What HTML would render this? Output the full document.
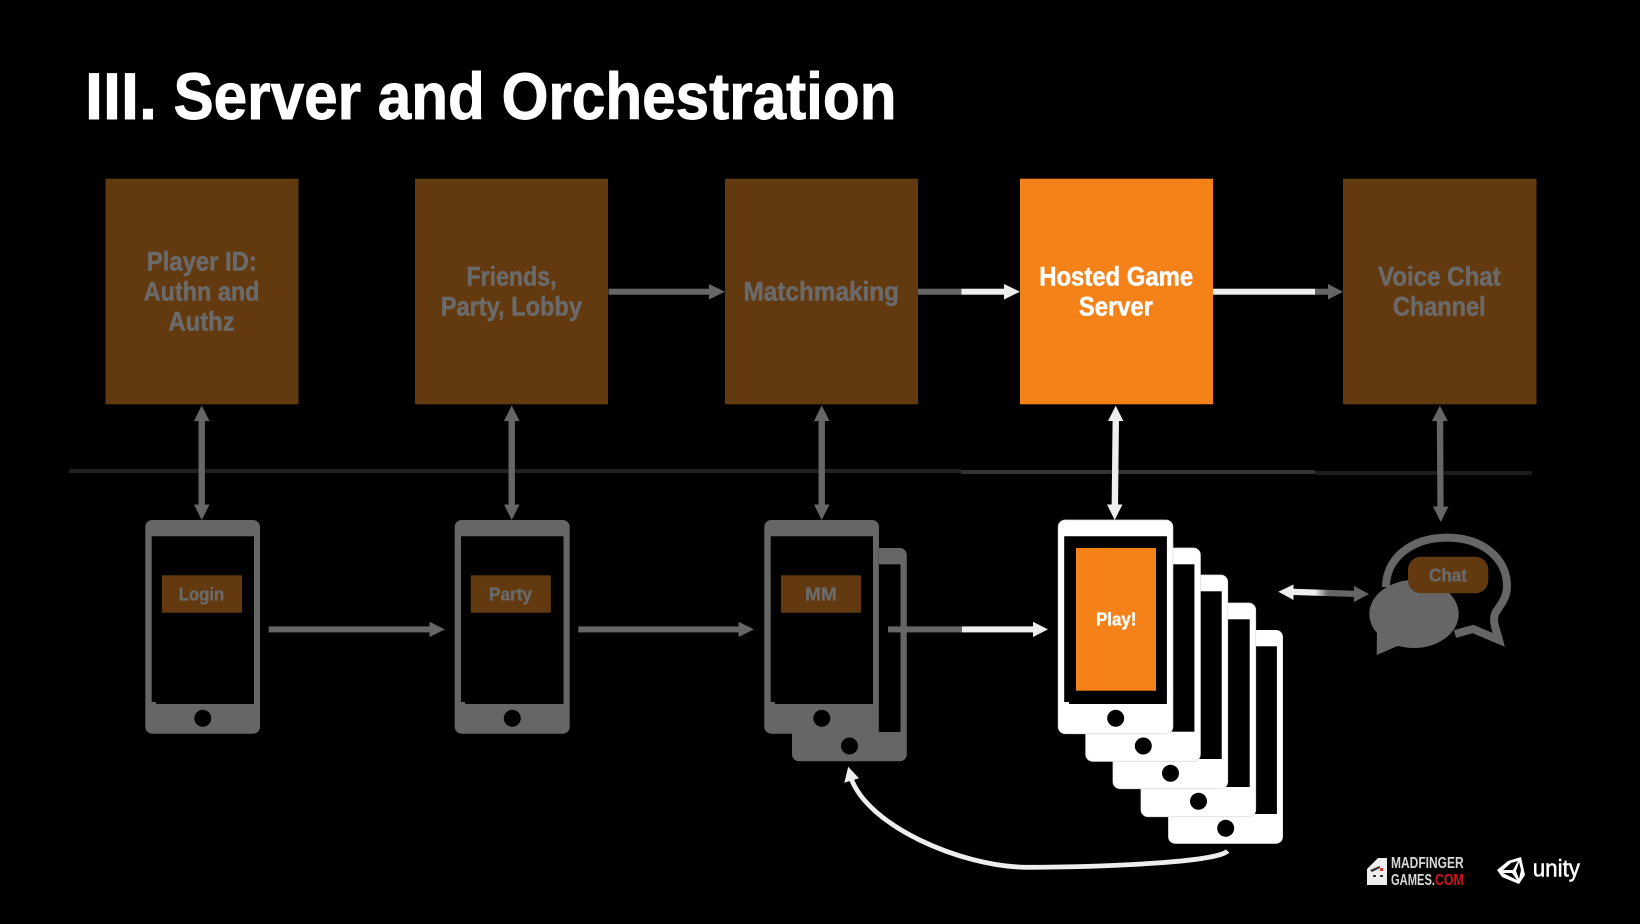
<!DOCTYPE html>
<html><head><meta charset="utf-8"><title>III. Server and Orchestration</title>
<style>html,body{margin:0;padding:0;background:#000}svg{display:block}
text{font-family:"Liberation Sans",sans-serif;font-weight:700;text-anchor:start}</style></head>
<body>
<svg width="1640" height="924" viewBox="0 0 1640 924" xmlns="http://www.w3.org/2000/svg">
<defs>
<linearGradient id="chatg" x1="1315" x2="1328" y1="0" y2="0" gradientUnits="userSpaceOnUse"><stop offset="0" stop-color="#eee"/><stop offset="1" stop-color="#666"/></linearGradient>
</defs>
<rect width="1640" height="924" fill="#000"/>

<g font-size="66" fill="#fff" stroke="#fff" stroke-width="0.9">
<text x="85" y="119" textLength="72" lengthAdjust="spacingAndGlyphs">III.</text>
<text x="173.5" y="119" textLength="723" lengthAdjust="spacingAndGlyphs">Server and Orchestration</text>
</g>

<!-- divider -->
<rect x="69" y="469" width="892" height="4" fill="#202020"/>
<rect x="961" y="470" width="354" height="4" fill="#333"/>
<rect x="1315" y="471" width="217" height="4" fill="#1c1c1c"/>

<!-- top boxes -->
<rect x="105.5" y="178.7" width="193" height="225.6" fill="#633a10"/>
<rect x="415" y="178.7" width="193" height="225.6" fill="#633a10"/>
<rect x="725" y="178.7" width="193" height="225.6" fill="#633a10"/>
<rect x="1020" y="178.7" width="193" height="225.6" fill="#f58219"/>
<rect x="1343" y="178.7" width="193.5" height="225.6" fill="#633a10"/>

<g font-size="26.5" fill="#6a6a6a" stroke="#6a6a6a" stroke-width="0.5" transform="translate(0,0.7)">
<text x="146.8" y="270" textLength="110" lengthAdjust="spacingAndGlyphs">Player ID:</text>
<text x="143.8" y="300" textLength="115.6" lengthAdjust="spacingAndGlyphs">Authn and</text>
<text x="168.4" y="330" textLength="66.3" lengthAdjust="spacingAndGlyphs">Authz</text>
<text x="466.5" y="285" textLength="90" lengthAdjust="spacingAndGlyphs">Friends,</text>
<text x="440.7" y="315" textLength="141.3" lengthAdjust="spacingAndGlyphs">Party, Lobby</text>
<text x="743.5" y="300" textLength="155.5" lengthAdjust="spacingAndGlyphs">Matchmaking</text>
<text x="1378" y="285" textLength="122.7" lengthAdjust="spacingAndGlyphs">Voice Chat</text>
<text x="1393" y="315" textLength="92.5" lengthAdjust="spacingAndGlyphs">Channel</text>
</g>
<g font-size="26.5" fill="#fff" stroke="#fff" stroke-width="0.5" transform="translate(0,0.7)">
<text x="1039.2" y="285" textLength="154" lengthAdjust="spacingAndGlyphs">Hosted Game</text>
<text x="1078.9" y="315" textLength="74" lengthAdjust="spacingAndGlyphs">Server</text>
</g>

<!-- horizontal arrows top -->
<rect x="608.5" y="288.7" width="102" height="6" fill="#666"/>
<polygon points="725,291.7 709,284 709,299.5" fill="#666"/>
<rect x="918" y="288.7" width="43.5" height="6" fill="#666"/>
<rect x="961.5" y="288.7" width="45" height="6" fill="#eee"/>
<polygon points="1020,291.7 1004,284 1004,299.5" fill="#eee"/>
<rect x="1213" y="288.7" width="102" height="6" fill="#eee"/>
<rect x="1315" y="288.7" width="15" height="6" fill="#666"/>
<polygon points="1343,291.7 1328,284 1328,299.5" fill="#666"/>

<!-- vertical arrows -->
<g fill="#666">
<rect x="198.5" y="418" width="6.4" height="90"/>
<polygon points="201.7,405.5 194,421 209.5,421"/>
<polygon points="201.7,520 194,504.5 209.5,504.5"/>
<rect x="508.5" y="418" width="6.4" height="90"/>
<polygon points="511.7,405.5 504,421 519.5,421"/>
<polygon points="511.7,520 504,504.5 519.5,504.5"/>
<rect x="818.5" y="418" width="6.4" height="90"/>
<polygon points="821.7,405.5 814,421 829.5,421"/>
<polygon points="821.7,520 814,504.5 829.5,504.5"/>
<polygon points="1436.8,418 1443.2,418 1443.6,508 1437.4,508"/>
<polygon points="1439.9,405.7 1432,421 1447.8,421"/>
<polygon points="1440.7,522 1433,506.5 1448.5,506.5"/>
</g>
<g fill="#eee">
<polygon points="1112.6,418 1119,418 1118,508 1111.6,508"/>
<polygon points="1115.7,405.7 1108,421 1123.4,421"/>
<polygon points="1114.7,520 1107,504.5 1122.5,504.5"/>
</g>

<!-- gray phones -->
<g fill="#666">
<rect x="145.3" y="520" width="114.7" height="213.7" rx="7"/>
<rect x="454.7" y="520" width="115" height="213.7" rx="7"/>
<rect x="792" y="548" width="114.8" height="213.3" rx="7"/>
<rect x="764.3" y="520" width="114.7" height="213.7" rx="7"/>
</g>
<rect x="878" y="548" width="1" height="186" fill="#555"/>
<g fill="#000">
<rect x="879" y="564.3" width="21.5" height="167.7"/>
<polygon points="151.7,536.3 254,536.3 254,704 156,704 156,702 151.7,702"/>
<polygon points="461,536.3 563.5,536.3 563.5,704 465,704 465,702 461,702"/>
<polygon points="770.7,536.3 873,536.3 873,704 775,704 775,702 770.7,702"/>
<circle cx="202.8" cy="718.3" r="8.5"/>
<circle cx="512.3" cy="718.3" r="8.5"/>
<circle cx="821.8" cy="718.3" r="8.5"/>
<circle cx="849.5" cy="746" r="8.5"/>
</g>

<!-- small labels -->
<rect x="162" y="575.3" width="80" height="37.4" fill="#633a10"/>
<rect x="470.8" y="575.3" width="80" height="37.4" fill="#633a10"/>
<rect x="781" y="575.3" width="80" height="37.4" fill="#633a10"/>
<g font-size="18.5" fill="#6a6a6a" stroke="#6a6a6a" stroke-width="0.35">
<text x="178.7" y="600.7" textLength="45.6" lengthAdjust="spacingAndGlyphs">Login</text>
<text x="489" y="600.7" textLength="43" lengthAdjust="spacingAndGlyphs">Party</text>
<text x="805" y="600.7" textLength="31.8" lengthAdjust="spacingAndGlyphs">MM</text>
</g>

<!-- lower arrows -->
<rect x="268.7" y="626.4" width="162" height="6" fill="#666"/>
<polygon points="445,629.4 429.5,621.7 429.5,637" fill="#666"/>
<rect x="578.3" y="626.4" width="162" height="6" fill="#666"/>
<polygon points="754,629.4 738.5,621.7 738.5,637" fill="#666"/>
<rect x="888" y="626.4" width="74" height="6" fill="#666"/>
<rect x="962" y="626.4" width="72" height="6" fill="#eee"/>
<polygon points="1048,629.4 1033,621.7 1033,637" fill="#eee"/>

<!-- white phones stack -->
<g>
<rect x="1168.2" y="630" width="114.7" height="213.7" rx="7" fill="#fff"/>
<rect x="1174.2" y="646.3" width="102.7" height="167.7" fill="#000"/>
<circle cx="1225.7" cy="828.3" r="8.5" fill="#000"/>
<rect x="1141" y="603" width="114.7" height="213.7" rx="7" fill="#fff" stroke="#ddd" stroke-width="0.8"/>
<rect x="1147" y="619.3" width="102.7" height="167.7" fill="#000"/>
<circle cx="1198.5" cy="801.3" r="8.5" fill="#000"/>
<rect x="1113" y="575" width="114.7" height="213.7" rx="7" fill="#fff" stroke="#ddd" stroke-width="0.8"/>
<rect x="1119" y="591.3" width="102.7" height="167.7" fill="#000"/>
<circle cx="1170.5" cy="773.3" r="8.5" fill="#000"/>
<rect x="1085.7" y="548" width="114.7" height="213.3" rx="7" fill="#fff" stroke="#ddd" stroke-width="0.8"/>
<rect x="1091.7" y="564.3" width="102.7" height="167.4" fill="#000"/>
<circle cx="1143.3" cy="746" r="8.5" fill="#000"/>
<rect x="1058.2" y="520" width="114.7" height="213.7" rx="7" fill="#fff" stroke="#ddd" stroke-width="0.8"/>
<polygon points="1064.2,536.3 1166.9,536.3 1166.9,704 1069,704 1069,702 1064.2,702" fill="#000"/>
<circle cx="1115.7" cy="718.3" r="8.5" fill="#000"/>
</g>
<rect x="1076" y="548" width="80" height="142.7" fill="#f58219"/>
<text x="1096" y="625.7" font-size="18.5" fill="#fff" stroke="#fff" stroke-width="0.35" textLength="40.4" lengthAdjust="spacingAndGlyphs">Play!</text>

<!-- curve -->
<path d="M1227.5 851 C1218 862 1110 867 1025 867.3 C960 866 868 826 851 778" fill="none" stroke="#eee" stroke-width="4.8"/>
<polygon points="848.2,766.7 844.3,782.7 859,778.3" fill="#eee"/>

<!-- chat arrow -->
<polygon points="1293,588.8 1355,590.8 1355,597 1293,595" fill="url(#chatg)"/>
<polygon points="1278.3,591.7 1293.5,584.5 1293.5,600" fill="#eee"/>
<polygon points="1369,594 1354,586 1354,602" fill="#666"/>

<!-- chat bubbles -->
<path d="M1386 587 C1386 558 1412 537.6 1447 537.6 C1482 537.6 1507 558 1507 586 C1507 598 1501 604 1496 612 C1491 620 1497 632 1499 640 L1473 629 L1455 634" fill="none" stroke="#666" stroke-width="8"/>
<polygon points="1503,645 1490,640 1497,630" fill="#666"/>
<ellipse cx="1414" cy="614" rx="44.7" ry="34" fill="#666"/>
<polygon points="1376.7,655 1377,628 1402,644" fill="#666"/>
<rect x="1408" y="556.7" width="80.3" height="36.6" rx="13" fill="#633a10"/>
<text x="1429" y="581.7" font-size="18.5" fill="#6a6a6a" stroke="#6a6a6a" stroke-width="0.35" textLength="38" lengthAdjust="spacingAndGlyphs">Chat</text>

<!-- madfinger logo -->
<path d="M1367 869 L1378 858 L1387 858 L1387 885 L1367 885 Z" fill="#eee"/>
<path d="M1370 870 L1380 866 L1380 868 L1372 872 Z" fill="#333"/>
<rect x="1373" y="875" width="3" height="2" fill="#333"/>
<rect x="1380" y="875" width="3" height="2" fill="#333"/>
<rect x="1380" y="868" width="3" height="3" fill="#d33"/>
<g font-size="15.5">
<text x="1391" y="868" fill="#d8d8d8" textLength="72.7" lengthAdjust="spacingAndGlyphs">MADFINGER</text>
<text x="1391" y="885" fill="#d8d8d8" textLength="44" lengthAdjust="spacingAndGlyphs">GAMES.</text>
<text x="1435" y="885" fill="#d3141b" textLength="28.7" lengthAdjust="spacingAndGlyphs">COM</text>
</g>

<!-- unity logo -->
<path d="M1521 857 L1525 875 L1519 884 L1502 877 L1497 870 L1508 861 Z M1511 863 L1503 870 L1513 870 L1518 861 Z M1512 873 L1503 873 L1517 880 Z M1516 871 L1519 879 L1521 870 L1519 862 Z" fill="#fff" fill-rule="evenodd"/>
<text x="1532.7" y="876.7" font-size="24" fill="#fff" stroke="#fff" stroke-width="0.5" textLength="47.3" lengthAdjust="spacingAndGlyphs" style="font-weight:400">unity</text>
</svg>
</body></html>
